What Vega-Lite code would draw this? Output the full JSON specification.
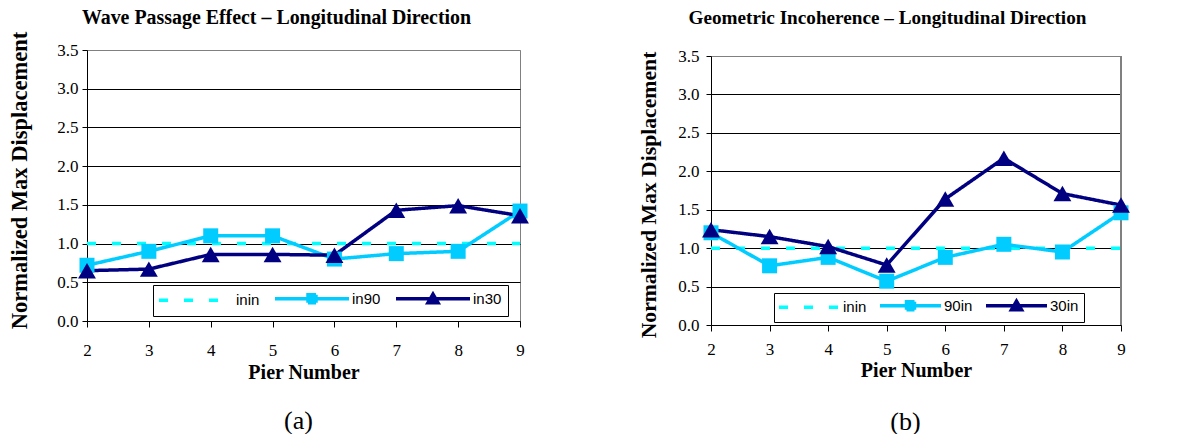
{
  "$schema": "https://vega.github.io/schema/vega-lite/v6.json",
  "background": "white",
  "padding": {"left": 7, "top": 6, "right": 5, "bottom": 0},
  "columns": 2,
  "align": "none",
  "spacing": 107,
  "resolve": {"scale": {"color": "independent", "strokeDash": "independent"}, "legend": {"color": "independent"}},
  "datasets": {
    "a": [
      {"pier": 2, "series": "inin", "value": 1.0}, {"pier": 3, "series": "inin", "value": 1.0}, {"pier": 4, "series": "inin", "value": 1.0}, {"pier": 5, "series": "inin", "value": 1.0},
      {"pier": 6, "series": "inin", "value": 1.0}, {"pier": 7, "series": "inin", "value": 1.0}, {"pier": 8, "series": "inin", "value": 1.0}, {"pier": 9, "series": "inin", "value": 1.0},
      {"pier": 2, "series": "in90", "value": 0.72}, {"pier": 3, "series": "in90", "value": 0.90}, {"pier": 4, "series": "in90", "value": 1.10}, {"pier": 5, "series": "in90", "value": 1.10},
      {"pier": 6, "series": "in90", "value": 0.80}, {"pier": 7, "series": "in90", "value": 0.87}, {"pier": 8, "series": "in90", "value": 0.90}, {"pier": 9, "series": "in90", "value": 1.42},
      {"pier": 2, "series": "in30", "value": 0.65}, {"pier": 3, "series": "in30", "value": 0.67}, {"pier": 4, "series": "in30", "value": 0.86}, {"pier": 5, "series": "in30", "value": 0.86},
      {"pier": 6, "series": "in30", "value": 0.85}, {"pier": 7, "series": "in30", "value": 1.43}, {"pier": 8, "series": "in30", "value": 1.49}, {"pier": 9, "series": "in30", "value": 1.36}
    ],
    "b": [
      {"pier": 2, "series": "inin", "value": 1.0}, {"pier": 3, "series": "inin", "value": 1.0}, {"pier": 4, "series": "inin", "value": 1.0}, {"pier": 5, "series": "inin", "value": 1.0},
      {"pier": 6, "series": "inin", "value": 1.0}, {"pier": 7, "series": "inin", "value": 1.0}, {"pier": 8, "series": "inin", "value": 1.0}, {"pier": 9, "series": "inin", "value": 1.0},
      {"pier": 2, "series": "90in", "value": 1.20}, {"pier": 3, "series": "90in", "value": 0.77}, {"pier": 4, "series": "90in", "value": 0.88}, {"pier": 5, "series": "90in", "value": 0.57},
      {"pier": 6, "series": "90in", "value": 0.88}, {"pier": 7, "series": "90in", "value": 1.05}, {"pier": 8, "series": "90in", "value": 0.95}, {"pier": 9, "series": "90in", "value": 1.46},
      {"pier": 2, "series": "30in", "value": 1.24}, {"pier": 3, "series": "30in", "value": 1.15}, {"pier": 4, "series": "30in", "value": 1.02}, {"pier": 5, "series": "30in", "value": 0.78},
      {"pier": 6, "series": "30in", "value": 1.64}, {"pier": 7, "series": "30in", "value": 2.17}, {"pier": 8, "series": "30in", "value": 1.71}, {"pier": 9, "series": "30in", "value": 1.56}
    ]
  },
  "config": {
    "view": {"stroke": "#808080", "strokeWidth": 1},
    "font": "Liberation Serif"
  },
  "concat": [
    {
      "width": 433, "height": 271,
      "data": {"name": "a"},
      "resolve": {"axis": {"x": "independent"}},
      "encoding": {
        "y": {"field": "value", "type": "quantitative", "scale": {"domain": [0, 3.5], "nice": false},
              "axis": {"title": "Normalized Max Displacement", "values": [0, 0.5, 1, 1.5, 2, 2.5, 3, 3.5], "format": ".1f",
                       "labelFont": "Liberation Serif", "labelFontSize": 17, "labelColor": "black", "labelPadding": 4, "labelOverlap": false, "labelFlush": false,
                       "tickSize": 5, "tickColor": "black", "domainColor": "black",
                       "grid": true, "gridColor": {"condition": {"test": "datum.value > 3.4", "value": "#808080"}, "value": "black"}, "gridWidth": 1,
                       "titleFont": "Liberation Serif", "titleFontSize": 22.5, "titleFontWeight": "bold", "titleColor": "black",
                       "titleX": -61, "titleY": 130, "titleAngle": 270, "titleBaseline": "alphabetic", "titleAlign": "center"}}
      },
      "layer": [
        {
          "mark": {"type": "line", "strokeWidth": 3.5},
          "encoding": {
            "x": {"field": "pier", "type": "quantitative", "scale": {"domain": [2, 9], "nice": false, "zero": false},
                  "axis": {"orient": "bottom", "title": "Pier Number", "values": [2, 3, 4, 5, 6, 7, 8, 9], "format": "d", "grid": false,
                           "labelFont": "Liberation Serif", "labelFontSize": 17, "labelColor": "black", "labelPadding": 15, "labelOverlap": false, "labelFlush": false,
                           "tickSize": 6, "tickColor": "black", "domainColor": "black",
                           "titleFont": "Liberation Serif", "titleFontSize": 20, "titleFontWeight": "bold", "titleColor": "black",
                           "titleY": 57, "titleBaseline": "alphabetic"}},
            "color": {"field": "series", "type": "nominal", "scale": {"domain": ["inin", "in90", "in30"], "range": ["#00FFFF", "#00CCFF", "#000080"]},
                      "legend": {"title": null, "orient": "none", "legendX": 66, "legendY": 235, "direction": "horizontal", "gridAlign": "each",
                                 "strokeColor": "black", "fillColor": "white", "padding": 6, "columnPadding": 8, "labelOffset": 62,
                                 "labelFont": "Liberation Sans", "labelFontSize": 15, "labelColor": "black",
                                 "symbolSize": 100, "symbolStrokeWidth": 3.5,
                                 "encode": {"symbols": {"update": {
                                   "shape": {"signal": "datum.value == 'inin' ? 'M-1.5,0H13.3' : datum.value == 'in90' ? 'M-1.5,0H13.3M5.1,-0.8H6.7V0.8H5.1Z' : 'M-1.5,0H13.3M4.9,0.8L5.9,-0.9L6.9,0.8Z'"},
                                   "stroke": {"signal": "datum.value == 'inin' ? '#00FFFF' : datum.value == 'in90' ? '#00CCFF' : '#000080'"},
                                   "fill": {"signal": "datum.value == 'inin' ? 'transparent' : datum.value == 'in90' ? '#00CCFF' : '#000080'"},
                                   "strokeDash": {"signal": "datum.value == 'inin' ? [9, 16] : [1, 0]"},
                                   "strokeWidth": {"value": 3.5},
                                   "opacity": {"value": 1}
                                 }}}}},
            "strokeDash": {"field": "series", "type": "nominal", "scale": {"domain": ["inin", "in90", "in30"], "range": [[9, 16], [1, 0], [1, 0]]}, "legend": null}
          }
        },
        {
          "transform": [{"filter": "datum.series == 'in90'"}],
          "mark": {"type": "square", "size": 225, "color": "#00CCFF", "opacity": 1},
          "encoding": {
            "x": {"field": "pier", "type": "quantitative",
                  "axis": {"orient": "bottom", "title": "(a)", "labels": false, "ticks": false, "domain": false, "grid": false,
                           "titleFont": "Liberation Serif", "titleFontWeight": "normal", "titleFontSize": 26, "titleColor": "black",
                           "titleY": 107, "titleX": 211, "titleBaseline": "alphabetic", "titleAlign": "center"}}
          }
        },
        {
          "transform": [{"filter": "datum.series == 'in30'"}],
          "mark": {"type": "point", "shape": "triangle-up", "filled": true, "size": 320, "color": "#000080", "opacity": 1},
          "encoding": {
            "x": {"field": "pier", "type": "quantitative",
                  "axis": {"orient": "top", "title": "Wave Passage Effect – Longitudinal Direction", "labels": false, "ticks": false, "domain": false, "grid": false,
                           "titleFont": "Liberation Serif", "titleFontWeight": "bold", "titleFontSize": 19.9, "titleColor": "black",
                           "titleY": -27, "titleX": 189, "titleBaseline": "alphabetic", "titleAlign": "center"}}
          }
        }
      ]
    },
    {
      "width": 410, "height": 275,
      "view": {"stroke": null},
      "data": {"name": "b"},
      "resolve": {"axis": {"x": "independent"}},
      "encoding": {
        "y": {"field": "value", "type": "quantitative", "scale": {"domain": [0, 3.5], "nice": false, "range": [275, 6]},
              "axis": {"title": "Normalized Max Displacement", "values": [0, 0.5, 1, 1.5, 2, 2.5, 3, 3.5], "format": ".1f",
                       "labelFont": "Liberation Serif", "labelFontSize": 17, "labelColor": "black", "labelPadding": 7, "labelOverlap": false, "labelFlush": false,
                       "tickSize": 5, "tickColor": "black", "domainColor": "black",
                       "grid": true, "gridColor": {"condition": {"test": "datum.value > 3.4", "value": "#808080"}, "value": "black"}, "gridWidth": 1,
                       "titleFont": "Liberation Serif", "titleFontSize": 21.7, "titleFontWeight": "bold", "titleColor": "black",
                       "titleX": -56, "titleY": 144.5, "titleAngle": 270, "titleBaseline": "alphabetic", "titleAlign": "center"}}
      },
      "layer": [
        {
          "mark": {"type": "rule", "color": "#808080", "strokeWidth": 1},
          "encoding": {
            "x": {"datum": 9, "type": "quantitative", "axis": null},
            "y": {"datum": 0, "type": "quantitative"},
            "y2": {"datum": 3.5}
          }
        },
        {
          "mark": {"type": "line", "strokeWidth": 3.5},
          "encoding": {
            "x": {"field": "pier", "type": "quantitative", "scale": {"domain": [2, 9], "nice": false, "zero": false},
                  "axis": {"orient": "bottom", "title": "Pier Number", "values": [2, 3, 4, 5, 6, 7, 8, 9], "format": "d", "grid": false,
                           "labelFont": "Liberation Serif", "labelFontSize": 17, "labelColor": "black", "labelPadding": 10, "labelOverlap": false, "labelFlush": false,
                           "tickSize": 6, "tickColor": "black", "domainColor": "black",
                           "titleFont": "Liberation Serif", "titleFontSize": 20, "titleFontWeight": "bold", "titleColor": "black",
                           "titleY": 51, "titleBaseline": "alphabetic"}},
            "color": {"field": "series", "type": "nominal", "scale": {"domain": ["inin", "90in", "30in"], "range": ["#00FFFF", "#00CCFF", "#000080"]},
                      "legend": {"title": null, "orient": "none", "legendX": 63, "legendY": 243, "direction": "horizontal", "gridAlign": "each",
                                 "strokeColor": "black", "fillColor": "white", "padding": 5, "columnPadding": 6, "labelOffset": 49,
                                 "labelFont": "Liberation Sans", "labelFontSize": 15, "labelColor": "black",
                                 "symbolSize": 100, "symbolStrokeWidth": 3.5,
                                 "encode": {"symbols": {"update": {
                                   "shape": {"signal": "datum.value == 'inin' ? 'M-1.5,0H10.7' : datum.value == '90in' ? 'M-1.5,0H10.7M3.8,-0.8H5.4V0.8H3.8Z' : 'M-1.5,0H10.7M3.6,0.8L4.6,-0.9L5.6,0.8Z'"},
                                   "stroke": {"signal": "datum.value == 'inin' ? '#00FFFF' : datum.value == '90in' ? '#00CCFF' : '#000080'"},
                                   "fill": {"signal": "datum.value == 'inin' ? 'transparent' : datum.value == '90in' ? '#00CCFF' : '#000080'"},
                                   "strokeDash": {"signal": "datum.value == 'inin' ? [9, 16] : [1, 0]"},
                                   "strokeWidth": {"value": 3.5},
                                   "opacity": {"value": 1}
                                 }}}}},
            "strokeDash": {"field": "series", "type": "nominal", "scale": {"domain": ["inin", "90in", "30in"], "range": [[9, 16], [1, 0], [1, 0]]}, "legend": null}
          }
        },
        {
          "transform": [{"filter": "datum.series == '90in'"}],
          "mark": {"type": "square", "size": 225, "color": "#00CCFF", "opacity": 1},
          "encoding": {
            "x": {"field": "pier", "type": "quantitative",
                  "axis": {"orient": "bottom", "title": "(b)", "labels": false, "ticks": false, "domain": false, "grid": false,
                           "titleFont": "Liberation Serif", "titleFontWeight": "normal", "titleFontSize": 26, "titleColor": "black",
                           "titleY": 104, "titleX": 194, "titleBaseline": "alphabetic", "titleAlign": "center"}}
          }
        },
        {
          "transform": [{"filter": "datum.series == '30in'"}],
          "mark": {"type": "point", "shape": "triangle-up", "filled": true, "size": 320, "color": "#000080", "opacity": 1},
          "encoding": {
            "x": {"field": "pier", "type": "quantitative",
                  "axis": {"orient": "top", "title": "Geometric Incoherence – Longitudinal Direction", "labels": false, "ticks": false, "domain": false, "grid": false,
                           "titleFont": "Liberation Serif", "titleFontWeight": "bold", "titleFontSize": 19.2, "titleColor": "black",
                           "titleY": -27, "titleX": 176, "titleBaseline": "alphabetic", "titleAlign": "center"}}
          }
        }
      ]
    }
  ]
}
